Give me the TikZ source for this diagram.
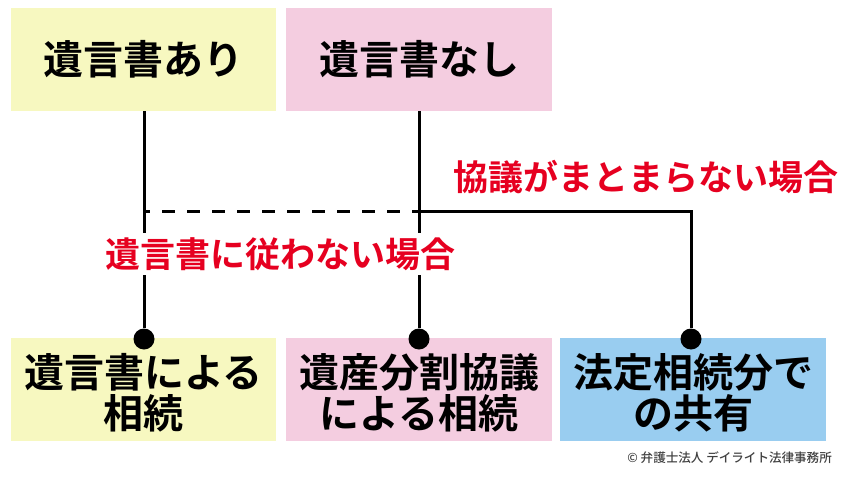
\documentclass[tikz,border=0pt]{standalone}
\usepackage{fontspec}
\setmainfont{Noto Sans CJK JP}[BoldFont={Noto Sans CJK JP Bold}]
\newfontfamily\creditfont{Noto Sans CJK JP Medium}
\definecolor{paleyellow}{HTML}{F7F8C0}
\definecolor{palepink}{HTML}{F4CDE0}
\definecolor{paleblue}{HTML}{99CDF0}
\definecolor{labelred}{HTML}{E60020}
\definecolor{creditgray}{HTML}{404040}
\tikzset{
  headbox/.style={minimum width=#1, minimum height=103pt, inner sep=0pt, font=\fontsize{40}{44}\selectfont\bfseries},
  resultbox/.style={minimum width=#1, minimum height=103pt, inner sep=0pt},
  resulttext/.style={inner sep=0pt, align=center, yshift=-3.5pt, font=\fontsize{40}{41}\selectfont\bfseries},
  redlabel/.style={text=labelred, inner sep=0pt, font=\fontsize{35}{38}\selectfont\bfseries},
  dotnode/.style={circle, fill=black, inner sep=0pt, minimum size=21pt},
  link/.style={line width=3pt}
}
\begin{document}
\begin{tikzpicture}[x=1pt,y=-1pt]
  \useasboundingbox (0,0) rectangle (850,476);

  \node[headbox=265pt, fill=paleyellow] (ari)  at (143.5,59.5) {遺言書あり};
  \node[headbox=266pt, fill=palepink]   (nashi) at (419,59.5) {遺言書なし};

  \node[resultbox=265pt, fill=paleyellow, label={[resulttext]center:遺言書による\\相続}] (will) at (143.5,389.5) {};
  \node[resultbox=266pt, fill=palepink, label={[resulttext]center:遺産分割協議\\による相続}] (split) at (419,389.5) {};
  \node[resultbox=266pt, fill=paleblue, label={[resulttext]center:法定相続分で\\の共有}] (share) at (693,389.5) {};

  \node[dotnode] (willdot)  at (144,339) {};
  \node[dotnode] (splitdot) at (419,339) {};
  \node[dotnode] (sharedot) at (691,339) {};

  \coordinate (dashl) at (144,211);
  \coordinate (dashr) at (419,211);
  \coordinate (corner) at (691,211);

  \draw[link] (ari.south -| willdot) -- (willdot);
  \draw[link] (nashi.south -| splitdot) -- (splitdot);
  \draw[link, dash pattern=on 13pt off 12pt, dash phase=7pt] (dashl) -- (dashr);
  \draw[link] (dashr) -- (corner) -- (sharedot);

  \node[redlabel, fill=white, minimum height=42pt] (nofollow) at (280,254) {遺言書に従わない場合};
  \node[redlabel] (nodeal) at (646,177) {協議がまとまらない場合};

  \node[text=creditgray, font=\creditfont\fontsize{12.55}{14}\selectfont, anchor=east, inner sep=0pt] (credit) at (832,458) {© 弁護士法人 デイライト法律事務所};
\end{tikzpicture}
\end{document}
